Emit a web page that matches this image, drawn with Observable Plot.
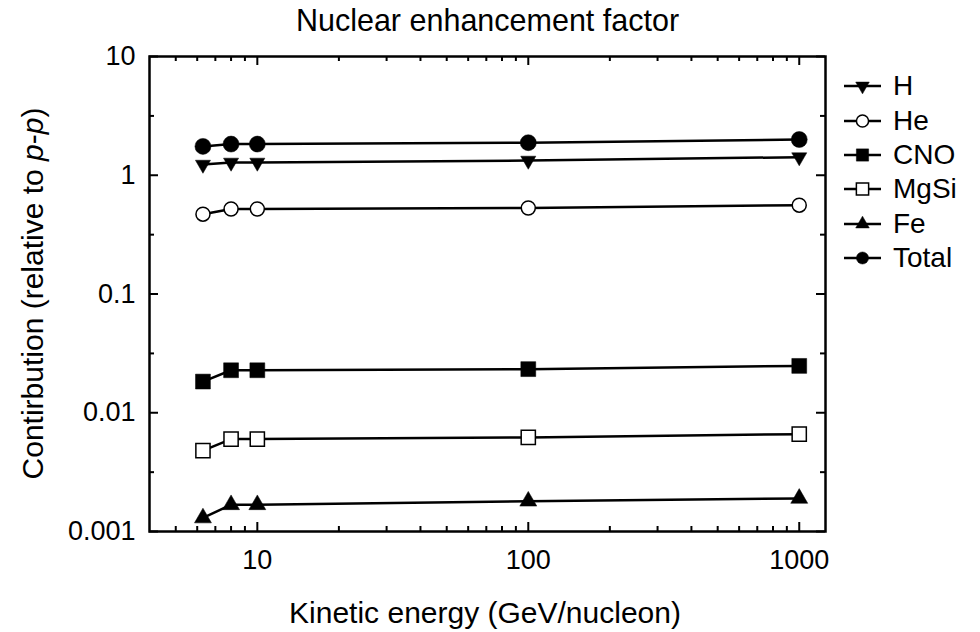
<!DOCTYPE html>
<html><head><meta charset="utf-8">
<script src="https://cdn.jsdelivr.net/npm/d3@7"></script>
<script src="https://cdn.jsdelivr.net/npm/@observablehq/plot@0.6"></script>
<style>
body{margin:0;background:#fff;font-family:"Liberation Sans",Arial,sans-serif;color:#000;}
#wrap{position:relative;width:980px;height:632px;}
#title{position:absolute;left:0;width:975px;top:3px;text-align:center;font-size:30.5px;}
#legend{position:absolute;left:843px;top:69px;}
.row{display:flex;align-items:center;height:34.4px;font-size:28px;line-height:1;}
.row svg{margin-right:6px;}
</style></head><body><div id="wrap"><div id="title">Nuclear enhancement factor</div><div id="chart"></div><div id="legend"></div></div>
<script>
// ---- data ----
const energy = [6.3, 8, 10, 100, 1000];
const seriesNames = ["H", "He", "CNO", "MgSi", "Fe", "Total"];
const valH = [1.23, 1.28, 1.28, 1.33, 1.42];
const valHe = [0.47, 0.52, 0.52, 0.53, 0.56];
const valCNO = [0.0183, 0.0228, 0.0228, 0.0233, 0.0248];
const valMgSi = [0.0048, 0.0060, 0.0060, 0.0062, 0.0066];
const valFe = [0.0013, 0.00168, 0.00168, 0.0018, 0.0019];
const valTotal = [1.75, 1.83, 1.83, 1.88, 2.0];
const xTickValues = [10, 100, 1000];
const xMinorTicks = [5, 6, 7, 8, 9, 20, 30, 40, 50, 60, 70, 80, 90, 200, 300, 400, 500, 600, 700, 800, 900];
const yTickValues = [0.001, 0.01, 0.1, 1, 10];
const yMinorTicks = [0.00316, 0.0316, 0.316, 3.16];
const titleText = "Nuclear enhancement factor";
const xLabel = "Kinetic energy (GeV/nucleon)";

// ---- layout / styles ----
const seriesValues = [valH, valHe, valCNO, valMgSi, valFe, valTotal];
const styles = {
  H: {symbol: "triangle", rotate: 180, fill: "black", r: 5.6},
  He: {symbol: "circle", rotate: 0, fill: "white", r: 7},
  CNO: {symbol: "square", rotate: 0, fill: "black", r: 8.4},
  MgSi: {symbol: "square", rotate: 0, fill: "white", r: 8},
  Fe: {symbol: "triangle", rotate: 0, fill: "black", r: 6.3},
  Total: {symbol: "circle", rotate: 0, fill: "black", r: 8}
};
const W = 980, Ht = 632, mt = 56, mr = 155, mb = 101, ml = 149;
const frameW = W - ml - mr, frameH = Ht - mt - mb;

const rows = [];
seriesNames.forEach((s, i) => energy.forEach((e, j) => rows.push({series: s, energy: e, value: seriesValues[i][j]})));

const marks = [
  Plot.tickX(xTickValues, {x: d => d, insetTop: frameH - 9, strokeWidth: 2}),
  Plot.tickX(xTickValues, {x: d => d, insetBottom: frameH - 9, strokeWidth: 2}),
  Plot.tickX(xMinorTicks, {x: d => d, insetTop: frameH - 5, strokeWidth: 2}),
  Plot.tickX(xMinorTicks, {x: d => d, insetBottom: frameH - 5, strokeWidth: 2}),
  Plot.tickY(yTickValues, {y: d => d, insetRight: frameW - 9, strokeWidth: 2}),
  Plot.tickY(yTickValues, {y: d => d, insetLeft: frameW - 9, strokeWidth: 2}),
  Plot.tickY(yMinorTicks, {y: d => d, insetRight: frameW - 5, strokeWidth: 2}),
  Plot.tickY(yMinorTicks, {y: d => d, insetLeft: frameW - 5, strokeWidth: 2}),
  Plot.frame({stroke: "black", strokeWidth: 2.5}),
  Plot.axisX({ticks: xTickValues, tickFormat: d => String(d), tickSize: 0, tickPadding: 18, fontSize: 27, label: null}),
  Plot.axisY({ticks: yTickValues, tickFormat: d => String(d), tickSize: 0, tickPadding: 14, fontSize: 27, label: null}),
  Plot.line(rows, {x: "energy", y: "value", z: "series", stroke: "black", strokeWidth: 2.5})
];
seriesNames.forEach(s => {
  const st = styles[s];
  marks.push(Plot.dot(rows.filter(d => d.series === s), {
    x: "energy", y: "value", symbol: st.symbol, r: st.r, rotate: st.rotate,
    fill: st.fill, stroke: "black", strokeWidth: st.fill === "white" ? 1.5 : 0.5
  }));
});

const chart = Plot.plot({
  width: W, height: Ht,
  marginTop: mt, marginRight: mr, marginBottom: mb, marginLeft: ml,
  style: {fontFamily: "'Liberation Sans', Arial, sans-serif", color: "black", background: "white"},
  x: {type: "log", domain: [4, 1250]},
  y: {type: "log", domain: [0.001, 10]},
  marks
});
document.getElementById("chart").appendChild(chart);
document.getElementById("title").textContent = titleText;

// axis titles (y title contains italic p-p)
const svg = d3.select(chart);
svg.append("text")
  .attr("x", ml + frameW / 2 - 2).attr("y", 623)
  .attr("text-anchor", "middle").attr("font-size", 30).attr("fill", "black")
  .text(xLabel);
const yl = svg.append("text")
  .attr("transform", `translate(43,${mt + frameH / 2}) rotate(-90)`)
  .attr("text-anchor", "middle").attr("font-size", 30).attr("fill", "black");
yl.append("tspan").text("Contirbution (relative to ");
yl.append("tspan").attr("font-style", "italic").text("p");
yl.append("tspan").text("-");
yl.append("tspan").attr("font-style", "italic").text("p");
yl.append("tspan").text(")");

// legend
const legendSymbols = {
  H: {type: d3.symbolTriangle, size: 80, rotate: 180},
  He: {type: d3.symbolCircle, size: 115, rotate: 0},
  CNO: {type: d3.symbolSquare, size: 150, rotate: 0},
  MgSi: {type: d3.symbolSquare, size: 150, rotate: 0},
  Fe: {type: d3.symbolTriangle, size: 80, rotate: 0},
  Total: {type: d3.symbolCircle, size: 115, rotate: 0}
};
const legend = d3.select("#legend");
seriesNames.forEach(s => {
  const row = legend.append("div").attr("class", "row");
  const sv = row.append("svg").attr("width", 44).attr("height", 34);
  sv.append("line").attr("x1", 1).attr("x2", 38).attr("y1", 17).attr("y2", 17)
    .attr("stroke", "black").attr("stroke-width", 2.5);
  const ls = legendSymbols[s];
  sv.append("path")
    .attr("d", d3.symbol(ls.type, ls.size)())
    .attr("transform", `translate(19.5,17) rotate(${ls.rotate})`)
    .attr("fill", styles[s].fill).attr("stroke", "black").attr("stroke-width", styles[s].fill === "white" ? 1.5 : 0.5);
  row.append("span").text(s);
});
</script>
</body></html>
